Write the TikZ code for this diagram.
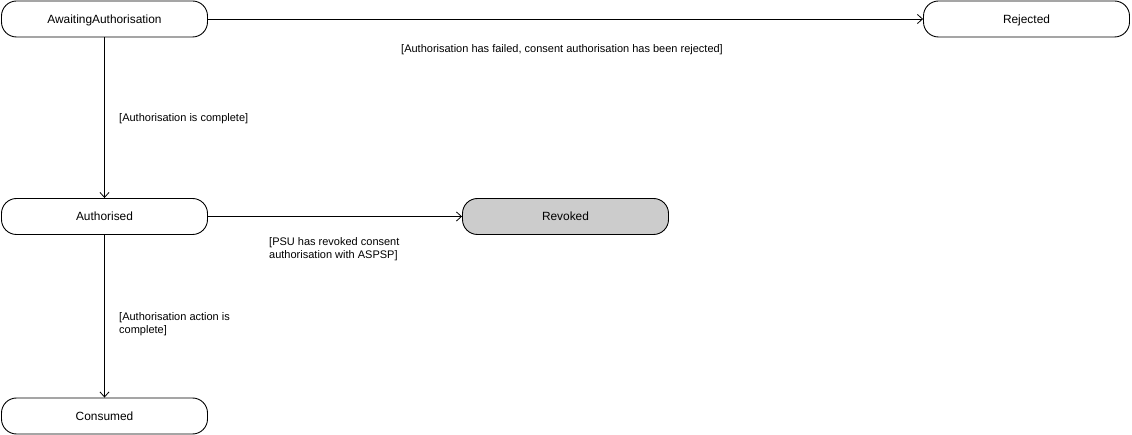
\documentclass[tikz,border=0pt]{standalone}
\usepackage{fontspec}
\setmainfont{Liberation Sans}
\usetikzlibrary{arrows.meta}
\begin{document}
\begin{tikzpicture}[x=1pt,y=-1pt,
  state/.style={draw=black, line width=0.9pt, rounded corners=15pt, minimum width=206pt, minimum height=36pt, inner sep=0pt, text depth=0pt, font=\fontsize{11.9}{14}\selectfont},
  conn/.style={draw=black, line width=0.9pt, -{Straight Barb[length=5pt,width=9pt,line width=0.8pt]}},
  lbl/.style={anchor=west, align=left, inner sep=0pt, font=\fontsize{11}{13}\selectfont}]
\useasboundingbox (0,0) rectangle (1132,435);
\node[state] (A) at (104.5,19) {AwaitingAuthorisation};
\node[state] (R) at (1026.5,19) {Rejected};
\node[state] (Au) at (104.5,216.5) {Authorised};
\node[state, fill={rgb,255:red,204;green,204;blue,204}] (Rv) at (565.5,216.5) {Revoked};
\node[state] (C) at (104.5,416) {Consumed};
\draw[conn] (A) -- (R);
\draw[conn] (A) -- (Au);
\draw[conn] (Au) -- (Rv);
\draw[conn] (Au) -- (C);
\node[lbl] (l1) at (401,50) {[Authorisation has failed, consent authorisation has been rejected]};
\node[lbl] (l2) at (119,119) {[Authorisation is complete]};
\node[lbl] (l3) at (269,249.5) {[PSU has revoked consent\\authorisation with ASPSP]};
\node[lbl] (l4) at (119,324.5) {[Authorisation action is\\complete]};
\end{tikzpicture}
\end{document}
